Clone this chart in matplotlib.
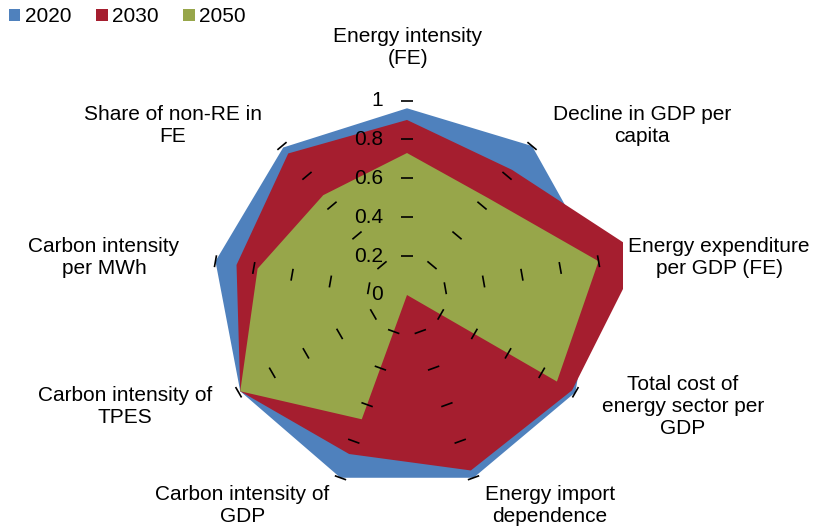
import numpy as np
import matplotlib
matplotlib.use("Agg")
import matplotlib.pyplot as plt
from matplotlib.patches import Patch

plt.rcParams['font.family'] = ['Liberation Sans', 'DejaVu Sans']

categories = ['Energy intensity\n(FE)', 'Decline in GDP per\ncapita',
              'Energy expenditure\nper GDP (FE)', 'Total cost of\nenergy sector per\nGDP',
              'Energy import\ndependence', 'Carbon intensity of\nGDP',
              'Carbon intensity of\nTPES', 'Carbon intensity\nper MWh',
              'Share of non-RE in\nFE']
years = ['2020', '2030', '2050']
v2020 = [0.96, 1.00, 0.99, 1.00, 1.00, 1.00, 0.99, 1.00, 0.99]
v2030 = [0.90, 0.84, 1.22, 0.98, 0.96, 0.87, 0.99, 0.89, 0.95]
v2050 = [0.73, 0.65, 1.00, 0.89, 0.00, 0.68, 0.99, 0.78, 0.67]
colors = ['#4F81BD', '#A51E2F', '#97A64A']
levels = [0, 0.2, 0.4, 0.6, 0.8, 1.0]

W, H = 816, 529
cx, cy, R = 407, 295, 194.5   # centre and radius of 1.0, in pixels

fig = plt.figure(figsize=(W / 100, H / 100), dpi=100)
# plot area in pixels (Excel clips the series at its right edge)
l_px, r_px, t_px, b_px = 150, 623.3, 80, 505
ax = fig.add_axes([l_px / W, 1 - b_px / H, (r_px - l_px) / W, (b_px - t_px) / H])
ax.set_xlim((l_px - cx) / R, (r_px - cx) / R)
ax.set_ylim((cy - b_px) / R, (cy - t_px) / R)
ax.axis('off')

n = len(categories)
theta = np.arange(n) * 2 * np.pi / n   # clockwise from top

for vals, c in zip([v2020, v2030, v2050], colors):
    v = np.array(vals)
    ax.fill(v * np.sin(theta), v * np.cos(theta), color=c, lw=0, zorder=2)

# short gridline dashes on every spoke
half = 6 / R
for t in theta:
    for lv in levels[1:]:
        x0, y0 = lv * np.sin(t), lv * np.cos(t)
        dx, dy = np.cos(t) * half, -np.sin(t) * half
        ax.plot([x0 - dx, x0 + dx], [y0 - dy, y0 + dy], color='black',
                lw=1.2, solid_capstyle='butt', zorder=3)

for lv in levels:
    ax.text(-24 / R, lv, '%g' % lv, ha='right', va='center', fontsize=15, zorder=4)

# category labels (pixel centres)
label_pos = [(408, 48), (642, 125), (719, 257.5), (683, 406), (550, 505),
             (242.5, 505), (125, 406.5), (104, 257.5), (173, 125)]
for name, (px, py) in zip(categories, label_pos):
    fig.text(px / W, 1 - py / H, name, ha='center', va='center',
             multialignment='center', fontsize=15)

handles = [Patch(facecolor=c, edgecolor='none') for c in colors]
fig.legend(handles, years, loc='center left', bbox_to_anchor=(9 / W, 1 - 17 / H),
           ncol=3, frameon=False, fontsize=15, borderpad=0, borderaxespad=0,
           handlelength=0.55, handleheight=0.55, handletextpad=0.2,
           columnspacing=1.2)

fig.savefig('out.png', dpi=100)
